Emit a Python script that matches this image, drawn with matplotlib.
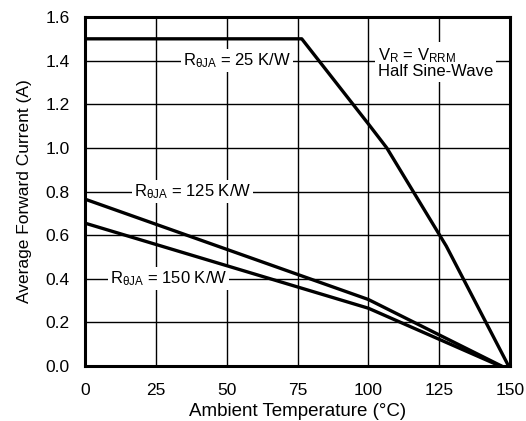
import matplotlib
matplotlib.use("Agg")
import matplotlib.pyplot as plt

plt.rcParams['font.family'] = ['Liberation Sans', 'DejaVu Sans']
plt.rcParams['mathtext.fontset'] = 'custom'
plt.rcParams['mathtext.rm'] = 'Liberation Sans'
plt.rcParams['mathtext.it'] = 'Liberation Sans'
plt.rcParams['mathtext.default'] = 'regular'

# derating curves
t_25 = [0, 76.5, 100, 106.5, 127.5, 149.5]
i_25 = [1.5, 1.5, 1.11, 1.0, 0.55, 0.0]
t_125 = [0, 100, 147]
i_125 = [0.765, 0.305, 0.0]
t_150 = [0, 100, 146.5]
i_150 = [0.655, 0.265, 0.0]

xticks = [0, 25, 50, 75, 100, 125, 150]
yticks = [0.0, 0.2, 0.4, 0.6, 0.8, 1.0, 1.2, 1.4, 1.6]

fig = plt.figure(figsize=(5.26, 4.21), dpi=100)
ax = fig.add_axes([0.1616, 0.1306, 0.808, 0.829])

ax.plot(t_25, i_25, color='black', lw=2.4, zorder=4)
ax.plot(t_125, i_125, color='black', lw=2.4, zorder=4)
ax.plot(t_150, i_150, color='black', lw=2.4, zorder=4)

ax.set_xlim(0, 150)
ax.set_ylim(0, 1.6)
ax.set_xticks(xticks)
ax.set_yticks(yticks)
ax.set_yticklabels(['%.1f' % v for v in yticks])
ax.grid(True, color='black', lw=1.0)
ax.set_axisbelow(True)
ax.tick_params(axis='x', length=0, labelsize=12.5, pad=12)
ax.tick_params(axis='y', length=0, labelsize=12.5, pad=11)
for s in ax.spines.values():
    s.set_linewidth(2.2)

ax.set_xlabel('Ambient Temperature (°C)', fontsize=13.5, labelpad=4)
ax.set_ylabel('Average Forward Current (A)', fontsize=12.5, labelpad=10)

box = dict(facecolor='white', edgecolor='none', pad=1.5)
ax.text(53.8, 1.4, r'R$_{\theta JA}$ = 25 K/W', fontsize=12, ha='center', va='center', bbox=box, zorder=3)
ax.text(38, 0.8, r'R$_{\theta JA}$ = 125 K/W', fontsize=12, ha='center', va='center', bbox=box, zorder=3)
ax.text(29.5, 0.4, r'R$_{\theta JA}$ = 150 K/W', fontsize=12, ha='center', va='center', bbox=box, zorder=3)
ax.text(103.3, 1.39, 'V$_{R}$ = V$_{RRM}$\nHalf Sine-Wave', fontsize=12, ha='left', va='center',
        linespacing=0.95, bbox=dict(facecolor='white', edgecolor='none', pad=2), zorder=3)

fig.savefig('out.png', dpi=100)
